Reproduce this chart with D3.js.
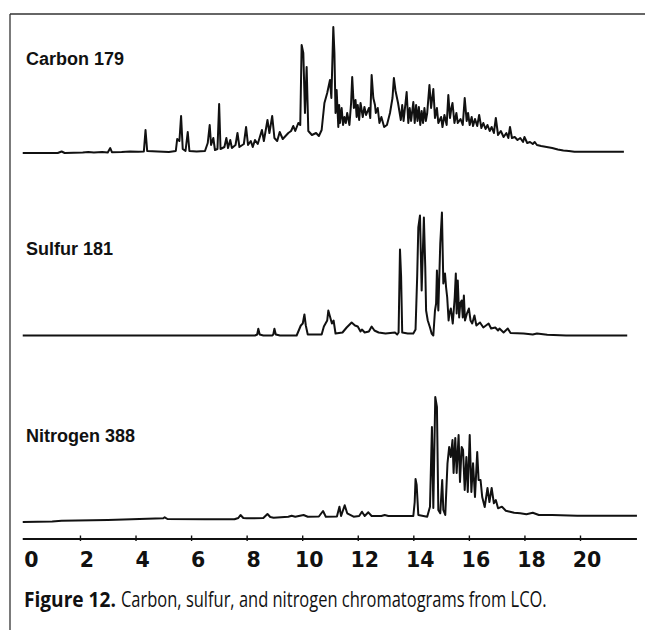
<!DOCTYPE html>
<html>
<head>
<meta charset="utf-8">
<script src="https://cdn.jsdelivr.net/npm/d3@7"></script>
<style>
  html, body { margin: 0; padding: 0; background: #fff; }
  svg { display: block; }
</style>
</head>
<body>
<svg id="chart" width="645" height="630"></svg>
<script>
// Retention time (min) and detector response for each element-specific trace.
const carbonTrace = [
  [-0.06,0],[1.2,0],[1.34,1.5],[1.45,0],[2.1,0.5],[2.3,1],[2.5,0.6],[2.8,1],[3.0,0.6],[3.09,5],[3.15,0.8],
  [3.5,1],[3.8,1.5],[4.1,1.2],[4.3,1.5],[4.36,23],[4.42,2],[4.8,1.5],[5.2,1],[5.45,2],[5.5,14],[5.58,12],
  [5.64,37],[5.7,4],[5.8,2],[5.88,21],[5.94,2],[6.2,1.5],[6.5,2],[6.6,10],[6.67,28],[6.72,8],[6.8,15],
  [6.86,3],[6.95,4],[7.01,49],[7.06,4],[7.2,6],[7.27,15],[7.33,5],[7.41,13],[7.47,5],[7.6,8],[7.67,20],
  [7.74,6],[7.9,9],[7.98,26],[8.05,8],[8.15,12],[8.22,6],[8.3,13],[8.4,9],[8.55,23],[8.62,12],[8.75,33],
  [8.82,20],[8.92,37],[9.0,15],[9.1,12],[9.19,21],[9.3,14],[9.4,17],[9.5,20],[9.6,22],[9.68,27],[9.75,22],
  [9.86,30],[9.93,28],[9.98,108],[10.04,100],[10.1,40],[10.16,86],[10.22,22],[10.35,18],[10.5,20],
  [10.6,17],[10.7,23],[10.8,50],[10.9,60],[11.0,73],[11.05,55],[11.12,126],[11.16,100],[11.2,40],
  [11.24,63],[11.3,26],[11.33,48],[11.36,30],[11.42,45],[11.47,28],[11.52,36],[11.57,30],[11.62,40],
  [11.7,28],[11.76,50],[11.8,76],[11.86,45],[11.92,53],[11.96,36],[12.0,48],[12.05,33],[12.1,50],
  [12.18,36],[12.24,46],[12.3,38],[12.4,45],[12.45,35],[12.5,78],[12.56,55],[12.62,48],[12.65,40],
  [12.72,45],[12.78,30],[12.85,36],[12.95,26],[13.05,28],[13.16,40],[13.25,55],[13.3,75],[13.36,62],
  [13.45,50],[13.55,33],[13.6,48],[13.65,32],[13.76,61],[13.82,30],[13.87,45],[13.92,32],[14.0,51],
  [14.05,30],[14.1,48],[14.15,32],[14.2,46],[14.25,28],[14.3,42],[14.35,30],[14.4,45],[14.45,32],
  [14.5,40],[14.58,68],[14.64,45],[14.72,64],[14.78,35],[14.85,45],[14.9,30],[15.0,36],[15.05,26],
  [15.12,38],[15.2,28],[15.26,58],[15.32,35],[15.37,45],[15.41,50],[15.48,30],[15.55,40],[15.6,30],
  [15.7,34],[15.78,28],[15.85,55],[15.92,32],[15.97,40],[16.03,28],[16.1,36],[16.15,27],[16.22,34],
  [16.3,27],[16.37,38],[16.45,25],[16.52,30],[16.6,24],[16.67,28],[16.75,22],[16.82,26],[16.9,20],
  [16.97,35],[17.05,18],[17.15,22],[17.25,16],[17.35,20],[17.42,15],[17.48,26],[17.55,15],[17.65,16],
  [17.75,13],[17.85,15],[17.95,11],[18.0,16],[18.1,10],[18.2,11],[18.3,9],[18.37,11],[18.45,8],
  [18.6,7],[18.8,6],[19.0,5],[19.2,3.5],[19.4,2.5],[19.6,2],[19.8,1.3],[20.5,1.3],[21.58,1.3]
];

const sulfurTrace = [
  [-0.06,0],[8.3,0],[8.38,1],[8.42,6.7],[8.47,1],[8.6,0],[8.92,0],[8.96,1],[9.0,6.7],[9.05,1],[9.2,0],
  [9.8,0],[9.86,4],[9.95,10],[10.02,12],[10.08,21],[10.13,10],[10.2,1],[10.7,1],[10.78,9],[10.9,15],
  [10.94,25],[11.0,19],[11.07,12],[11.13,15],[11.2,2],[11.45,3],[11.6,8],[11.78,13],[11.9,10],[12.0,9],
  [12.1,4],[12.15,6],[12.25,3],[12.4,4],[12.5,9],[12.6,5],[12.75,3],[13.0,2],[13.34,3],[13.42,1],
  [13.47,3],[13.52,86],[13.56,59],[13.6,3],[13.8,2],[14.0,2],[14.08,6],[14.14,60],[14.18,108],
  [14.24,120],[14.3,45],[14.38,118],[14.43,68],[14.46,25],[14.52,15],[14.6,8],[14.66,2],[14.72,0],
  [14.78,25],[14.82,32],[14.85,65],[14.9,25],[14.97,92],[15.03,123],[15.08,52],[15.14,62],[15.18,48],
  [15.22,38],[15.27,15],[15.3,22],[15.35,27],[15.42,12],[15.49,38],[15.53,62],[15.56,22],[15.6,55],
  [15.65,18],[15.69,32],[15.74,35],[15.78,18],[15.82,40],[15.86,15],[15.93,22],[16.0,27],[16.06,15],
  [16.12,12],[16.2,20],[16.27,10],[16.4,13],[16.52,8],[16.71,12],[16.8,7],[16.95,8],[17.05,5],[17.1,7],
  [17.25,3],[17.4,7],[17.5,2.5],[17.97,2],[18.3,1],[18.45,2],[18.82,0.7],[19.5,0],[21.7,0]
];

const nitrogenTrace = [
  [-0.06,0],[1.0,0.5],[1.34,1.3],[3.0,2],[5.0,3.7],[5.05,4.7],[5.15,3],[6.5,2.7],[7.56,2.7],[7.7,4],
  [7.78,7],[7.88,4],[8.0,3.7],[8.6,4],[8.75,8],[8.85,5],[8.97,4.3],[9.5,5.3],[9.62,6.3],[9.75,5.3],
  [10.05,7],[10.2,5.3],[10.6,5.5],[10.75,11],[10.85,5.3],[11.25,5.5],[11.34,15.3],[11.4,6],[11.53,16.7],
  [11.62,8.7],[11.85,5.3],[12.05,6],[12.15,10.3],[12.25,6],[12.38,9.7],[12.5,6],[12.85,6],[12.97,7],
  [13.1,6],[14.0,6],[14.05,20],[14.08,43],[14.12,37],[14.18,7],[14.5,5.3],[14.6,15.3],[14.67,95],
  [14.72,14],[14.79,125],[14.85,115],[14.9,12],[14.97,8.7],[15.04,42],[15.08,12],[15.15,7],[15.23,58.7],
  [15.29,75],[15.35,65],[15.41,82],[15.45,49],[15.51,84],[15.56,49],[15.63,87],[15.68,40],[15.74,75],
  [15.79,72],[15.85,32],[15.91,65],[15.96,30],[16.03,87],[16.09,30],[16.15,58.7],[16.22,25],[16.3,70],
  [16.35,42],[16.42,42],[16.48,25],[16.57,15],[16.67,34],[16.74,20],[16.82,34],[16.9,18.7],[16.97,22],
  [17.05,13.7],[17.19,15.3],[17.33,11.3],[17.48,10.3],[17.63,9.3],[17.85,8.7],[18.07,7.7],[18.3,9.3],
  [18.52,7],[19.0,7],[19.9,6.3],[22.05,6.3]
];

const panelNames = ["Carbon 179", "Sulfur 181", "Nitrogen 388"];
const tickValues = [0, 2, 4, 6, 8, 10, 12, 14, 16, 18, 20];
const captionLead = "Figure 12.";
const captionText = "Carbon, sulfur, and nitrogen chromatograms from LCO.";

const svg = d3.select("#chart");
const ink = "#111";
const boldSans = "'Liberation Sans', Arial, Helvetica, sans-serif";

// Time axis shared by all three traces.
const x = d3.scaleLinear().domain([0, 20]).range([24.4, 580]);

// Outer frame: top rule and left rule.
svg.append("line").attr("x1", 10).attr("y1", 14).attr("x2", 645).attr("y2", 14)
  .attr("stroke", "#333").attr("stroke-width", 1.3);
svg.append("line").attr("x1", 10).attr("y1", 14).attr("x2", 10).attr("y2", 630)
  .attr("stroke", "#333").attr("stroke-width", 1.3);

const panels = [
  { name: panelNames[0], data: carbonTrace, base: 153, labelY: 65 },
  { name: panelNames[1], data: sulfurTrace, base: 335.5, labelY: 255 },
  { name: panelNames[2], data: nitrogenTrace, base: 522, labelY: 442 }
];

panels.forEach(p => {
  const y = d3.scaleLinear().domain([0, 130]).range([p.base, p.base - 130]);
  const line = d3.line().x(d => x(d[0])).y(d => y(d[1]));
  svg.append("path")
    .datum(p.data)
    .attr("d", line)
    .attr("fill", "none")
    .attr("stroke", ink)
    .attr("stroke-width", 2)
    .attr("stroke-linejoin", "round");
  svg.append("text")
    .attr("x", 26).attr("y", p.labelY)
    .style("font-family", boldSans)
    .style("font-weight", "bold")
    .style("font-size", "18px")
    .attr("fill", ink)
    .text(p.name);
});

// Bottom time axis with upward ticks.
const axisY = 539;
svg.append("line")
  .attr("x1", x(-0.06)).attr("x2", x(22.05))
  .attr("y1", axisY).attr("y2", axisY)
  .attr("stroke", ink).attr("stroke-width", 2);

const axisG = svg.append("g")
  .attr("transform", `translate(0,${axisY})`)
  .call(d3.axisBottom(x).tickValues(tickValues).tickSizeInner(-4).tickSizeOuter(0).tickPadding(0));
axisG.attr("font-size", null).attr("font-family", null);
axisG.select(".domain").remove();
axisG.selectAll(".tick line")
  .attr("stroke", ink).attr("stroke-width", 1.4).attr("y2", -3.5)
  .attr("y1", 2)
  .filter(d => d === 0).remove();
axisG.selectAll(".tick text")
  .attr("y", 27.8).attr("dy", null).attr("dx", 6.5)
  .attr("fill", ink)
  .style("font-family", "'DejaVu Sans', Verdana, sans-serif")
  .style("font-weight", "bold")
  .style("font-size", "20.5px");

// Caption: bold figure number followed by the description, each
// condensed horizontally to its measured span.
function condensed(str, weight, x0, x1) {
  const t = svg.append("text")
    .style("font-family", "'Open Sans', 'Noto Sans', sans-serif")
    .style("font-size", "21.5px")
    .style("font-weight", weight)
    .attr("fill", ink)
    .text(str);
  const k = (x1 - x0) / t.node().getComputedTextLength();
  t.attr("transform", `translate(${x0},606.5) scale(${k},1)`);
}
condensed(captionLead, "bold", 24, 116);
condensed(captionText, "normal", 121, 547);
</script>
</body>
</html>
